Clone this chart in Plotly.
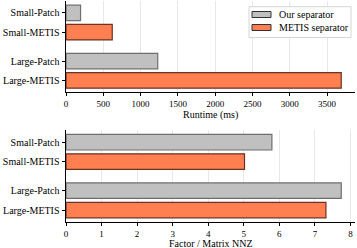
import plotly.graph_objects as go
from plotly.subplots import make_subplots

# Data
categories = ["Small-Patch", "Small-METIS", "Large-Patch", "Large-METIS"]
series_names = ["Our separator", "METIS separator"]
axis_titles = ["Runtime (ms)", "Factor / Matrix NNZ"]
runtime_ours = [195, 1230]      # Small-Patch, Large-Patch
runtime_metis = [620, 3690]     # Small-METIS, Large-METIS
factor_ours = [5.79, 7.74]
factor_metis = [5.02, 7.31]
runtime_ticks = [0, 500, 1000, 1500, 2000, 2500, 3000, 3500]
factor_ticks = [0, 1, 2, 3, 4, 5, 6, 7, 8]

# layout positions of categories (bottom-to-top numeric)
pos = {"Small-Patch": 3.5, "Small-METIS": 2.5, "Large-Patch": 1.0, "Large-METIS": 0.0}
ours_pos = [pos["Small-Patch"], pos["Large-Patch"]]
metis_pos = [pos["Small-METIS"], pos["Large-METIS"]]

GRAY = "#c0c0c0"
GRAY_EDGE = "#6e6e6e"
ORANGE = "#ff7f50"
ORANGE_EDGE = "#6b3322"
FONT = "Liberation Serif"

W, H = 357, 248
ML, MR, MT, MB = 66, 2, 1, 26
PW, PH = W - ML - MR, H - MT - MB

def px(x):
    return (x - ML) / PW

def py(y):
    return (H - MB - y) / PH

fig = make_subplots(rows=2, cols=1, vertical_spacing=0.17)

def add(row, ours, metis):
    fig.add_trace(go.Bar(x=ours, y=ours_pos, orientation="h", width=0.8,
                         name=series_names[0], marker=dict(color=GRAY, line=dict(color=GRAY_EDGE, width=1.2)),
                         showlegend=False), row=row, col=1)
    fig.add_trace(go.Bar(x=metis, y=metis_pos, orientation="h", width=0.8,
                         name=series_names[1], marker=dict(color=ORANGE, line=dict(color=ORANGE_EDGE, width=1.2)),
                         showlegend=False), row=row, col=1)

add(1, runtime_ours, runtime_metis)
add(2, factor_ours, factor_metis)

common_x = dict(showgrid=True, gridcolor="#e8e8e8", gridwidth=1, showline=True, linecolor="black",
                linewidth=1, ticks="outside", ticklen=3, tickwidth=1, tickcolor="black",
                tickfont=dict(family=FONT, size=9, color="black"), zeroline=False, automargin=False)
common_y = dict(showgrid=False, showline=True, linecolor="black", linewidth=1, ticks="outside",
                ticklen=3.5, tickwidth=1, tickcolor="black",
                tickfont=dict(family=FONT, size=10, color="black"), zeroline=False,
                tickvals=[pos[c] for c in categories], ticktext=categories, range=[-0.615, 4.115],
                automargin=False)

fig.update_xaxes(**common_x, range=[0, max(runtime_metis + runtime_ours) * 1.05],
                 tickvals=runtime_ticks, row=1, col=1)
fig.update_xaxes(**common_x, range=[0, max(factor_metis + factor_ours) * 1.05],
                 tickvals=factor_ticks, row=2, col=1)
fig.update_yaxes(**common_y, row=1, col=1)
fig.update_yaxes(**common_y, row=2, col=1)
fig.update_layout(yaxis=dict(domain=[py(92.3), 1.0]), yaxis2=dict(domain=[0.0, py(130.3)]))

# manual legend (matplotlib style)
shapes = [dict(type="rect", xref="paper", yref="paper", x0=px(249), x1=px(351), y0=py(37.5), y1=py(6.7),
               fillcolor="rgba(255,255,255,0.9)", line=dict(color="#d5d5d5", width=1), layer="above")]
annotations = []
swatches = [(GRAY, "#333333", 11.5, 17.5, 14.5), (ORANGE, "#333333", 24.5, 30.5, 27.5)]
for (fill, edge, y0, y1, yc), name in zip(swatches, series_names):
    shapes.append(dict(type="rect", xref="paper", yref="paper", x0=px(252), x1=px(271),
                       y0=py(y1), y1=py(y0), fillcolor=fill, line=dict(color=edge, width=1), layer="above"))
    annotations.append(dict(text=name, xref="paper", yref="paper", x=px(277), y=py(yc),
                            xanchor="left", yanchor="middle", showarrow=False,
                            font=dict(family=FONT, size=10, color="black")))

# axis titles
for title, yc in zip(axis_titles, [115.5, 243]):
    annotations.append(dict(text=title, xref="paper", yref="paper", x=0.5, y=py(yc),
                            xanchor="center", yanchor="middle", showarrow=False,
                            font=dict(family=FONT, size=10, color="black")))

fig.update_layout(
    width=W, height=H,
    margin=dict(l=ML, r=MR, t=MT, b=MB, autoexpand=False),
    plot_bgcolor="white", paper_bgcolor="white",
    barmode="overlay",
    font=dict(family=FONT, size=10, color="black"),
    showlegend=False,
    shapes=shapes, annotations=annotations,
)

fig.write_html("out.html", config={"displayModeBar": False},
               post_script="document.body.style.margin='0';document.body.style.overflow='hidden';")
